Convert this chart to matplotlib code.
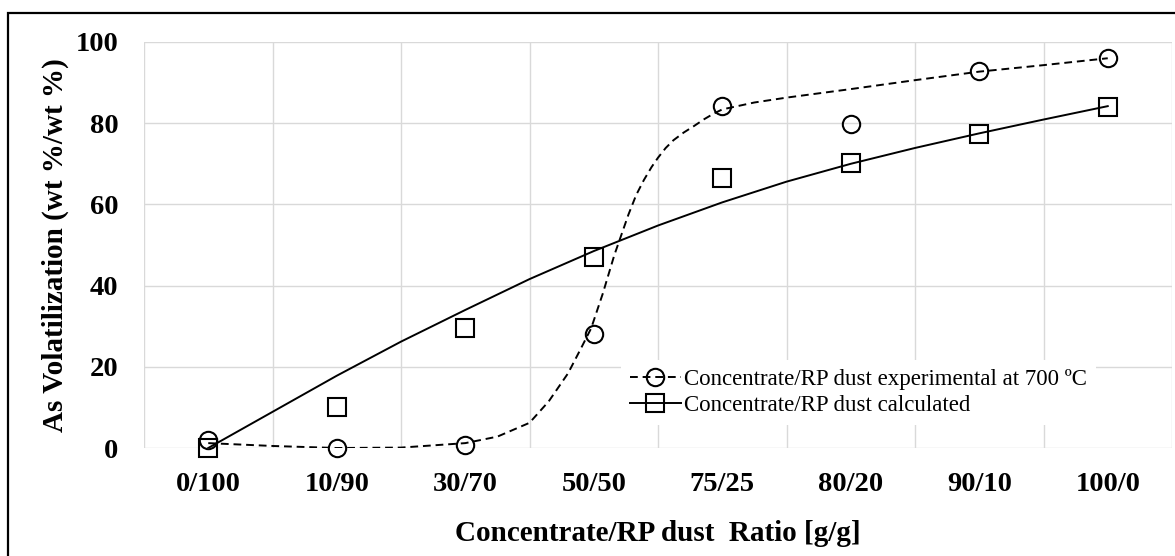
import matplotlib.pyplot as plt
from matplotlib.lines import Line2D
from matplotlib.patches import Rectangle

# category axis and measured / calculated points
ratios = ['0/100', '10/90', '30/70', '50/50', '75/25', '80/20', '90/10', '100/0']
experimental = [2.0, 0.0, 0.7, 28.2, 84.2, 79.8, 92.9, 96.0]
calculated = [0.0, 10.2, 29.5, 47.0, 66.6, 70.3, 77.3, 84.1]

# trend curves (x in category units)
exp_curve_x = [0, 0.5, 1, 1.5, 2, 2.25, 2.5, 2.65, 2.8, 2.9, 2.98, 3.07, 3.16,
               3.27, 3.33, 3.39, 3.45, 3.5, 3.56, 3.62, 3.7, 3.78, 3.86, 3.93, 4.0,
               4.25, 4.5, 5, 5.5, 6, 6.5, 7]
exp_curve_y = [1.2, 0.5, 0.0, 0.1, 1.2, 2.8, 6.2, 11.5, 18.4, 24.5, 29.5, 38.0, 47.5,
               57.5, 62.3, 66.0, 69.2, 71.5, 73.9, 75.8, 77.7, 79.3, 81.0, 82.3, 83.4,
               85.1, 86.3, 88.4, 90.6, 92.7, 94.3, 96.0]
calc_curve_x = [0, 0.5, 1, 1.5, 2, 2.5, 3, 3.5, 4, 4.5, 5, 5.5, 6, 6.5, 7]
calc_curve_y = [0, 8.9, 17.8, 26.2, 34.0, 41.6, 48.5, 54.8, 60.5, 65.6, 70.0, 73.9, 77.5, 80.9, 84.2]

label_exp = 'Concentrate/RP dust experimental at 700 ºC'
label_calc = 'Concentrate/RP dust calculated'

W, H = 1175, 556
fig = plt.figure(figsize=(W / 100, H / 100), dpi=100)
ax = fig.add_axes([144 / W, 1 - 448 / H, (1172 - 144) / W, (448 - 42) / H])

serif = ['Liberation Serif', 'DejaVu Serif']
dash = (4, 2.5)

ax.plot(exp_curve_x, exp_curve_y, color='black', lw=1.4, linestyle=(0, dash), zorder=3)
ax.plot(calc_curve_x, calc_curve_y, color='black', lw=1.4, zorder=3)
x = list(range(len(ratios)))
ax.plot(x, experimental, linestyle='none', marker='o', ms=12.5, mfc='none',
        mec='black', mew=1.5, zorder=4, clip_on=False)
ax.plot(x, calculated, linestyle='none', marker='s', ms=12.5, mfc='none',
        mec='black', mew=1.5, zorder=4, clip_on=False)

ax.set_xlim(-0.5, len(ratios) - 0.5)
ax.set_ylim(0, 100)
ax.set_yticks([0, 20, 40, 60, 80, 100])
ax.set_xticks(x)
ax.set_xticklabels(ratios)
ax.set_xticks([i - 0.5 for i in range(len(ratios) + 1)], minor=True)
ax.grid(False)
ax.grid(True, which='minor', axis='x', color='#d9d9d9', lw=1)
ax.grid(True, which='major', axis='y', color='#d9d9d9', lw=1)
ax.set_axisbelow(True)
for s in ax.spines.values():
    s.set_visible(False)
ax.tick_params(which='both', length=0)
ax.tick_params(axis='y', pad=18.5)
ax.tick_params(axis='x', pad=17.5)
for t in ax.get_xticklabels() + ax.get_yticklabels():
    t.set_family(serif)
    t.set_fontweight('bold')
    t.set_fontsize(20.5)

ax.set_xlabel('Concentrate/RP dust  Ratio [g/g]', family=serif, fontweight='bold',
              fontsize=21, labelpad=16)
ax.set_ylabel('As Volatilization (wt %/wt %)', family=serif, fontweight='bold',
              fontsize=21, labelpad=5)

handles = [
    Line2D([], [], color='black', lw=1.4, linestyle=(0, dash), marker='o', ms=12.5,
           mfc='none', mec='black', mew=1.5),
    Line2D([], [], color='black', lw=1.4, marker='s', ms=12.5, mfc='none',
           mec='black', mew=1.5),
]
leg = ax.legend(handles, [label_exp, label_calc], loc='upper left',
                bbox_to_anchor=(621 / W, 1 - 360 / H), bbox_transform=fig.transFigure,
                prop={'family': serif, 'size': 16.5}, frameon=True, fancybox=False,
                borderpad=0.4, handlelength=2.2, handletextpad=0.15,
                labelspacing=0.2, borderaxespad=0)
leg.get_frame().set_edgecolor('none')
leg.get_frame().set_facecolor('white')
leg.get_frame().set_alpha(1)

# outer frame of the chart
fig.patches.append(Rectangle((8 / W, -0.05), 1.2, 1 - 13 / H + 0.05,
                             transform=fig.transFigure, fill=False,
                             edgecolor='black', lw=1.6))

fig.savefig('out.png', dpi=100)
